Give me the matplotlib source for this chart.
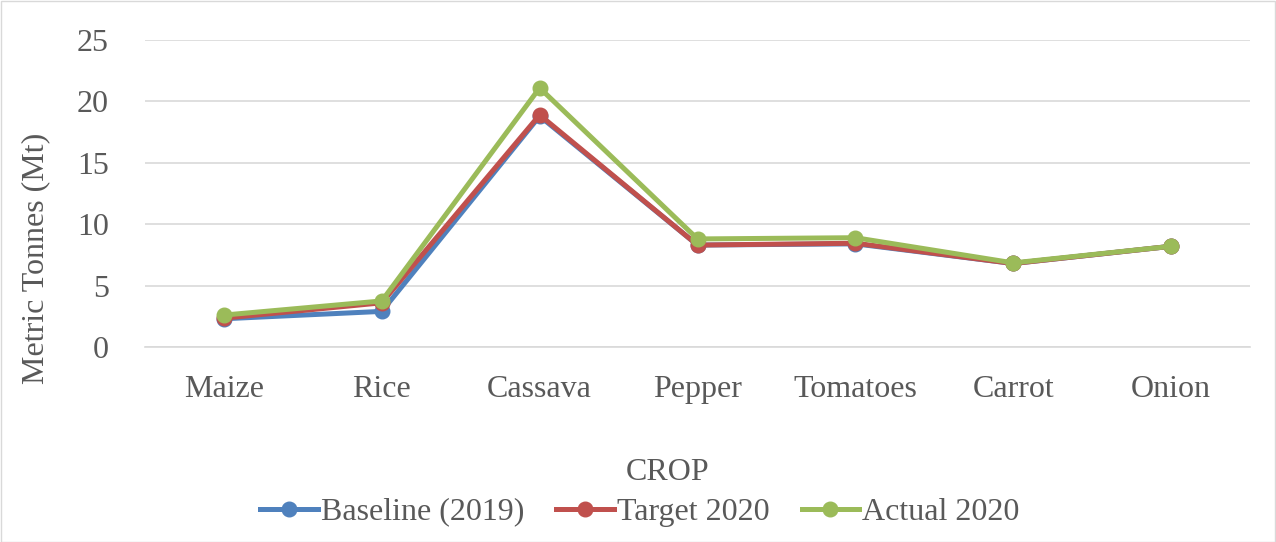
import matplotlib.pyplot as plt
from matplotlib.patches import Rectangle

crops = ['Maize', 'Rice', 'Cassava', 'Pepper', 'Tomatoes', 'Carrot', 'Onion']
baseline_2019 = [2.3, 2.9, 18.8, 8.3, 8.4, 6.8, 8.2]
target_2020 = [2.35, 3.6, 18.9, 8.3, 8.45, 6.8, 8.2]
actual_2020 = [2.6, 3.75, 21.1, 8.8, 8.9, 6.85, 8.2]

plt.rcParams['font.family'] = ['Liberation Serif', 'DejaVu Serif']
text_color = '#595959'

fig = plt.figure(figsize=(12.76, 5.42), dpi=100)
ax = fig.add_axes([145 / 1276, 1 - 347 / 542, 1105 / 1276, 307 / 542])

x = range(len(crops))
series = [
    (baseline_2019, '#4f81bd', 'Baseline (2019)'),
    (target_2020, '#c0504d', 'Target 2020'),
    (actual_2020, '#9bbb59', 'Actual 2020'),
]
for vals, col, lab in series:
    ax.plot(x, vals, color=col, linewidth=3.6, marker='o', markersize=10.5,
            label=lab, solid_joinstyle='round', clip_on=False)

ax.set_xlim(-0.5, len(crops) - 0.5)
ax.set_ylim(0, 25)
ax.set_yticks(range(0, 26, 5))
ax.set_xticks(list(x))
ax.set_xticklabels(crops)
ax.grid(axis='y', color='#d9d9d9', linewidth=1.2)
ax.set_axisbelow(True)
for s in ['top', 'right', 'left']:
    ax.spines[s].set_visible(False)
ax.spines['bottom'].set_color('#d9d9d9')
ax.spines['bottom'].set_linewidth(1.2)
ax.tick_params(axis='both', length=0, labelsize=23, colors=text_color)
ax.tick_params(axis='x', pad=20)
ax.tick_params(axis='y', pad=26)

fig.text(36 / 1276, 1 - 258 / 542, 'Metric Tonnes (Mt)', rotation=90,
         ha='center', va='center', fontsize=23, color=text_color)
fig.text(668 / 1276, 1 - 472 / 542, 'CROP', ha='center', va='center',
         fontsize=23, color=text_color)

leg = fig.legend(loc='center', bbox_to_anchor=(640 / 1276, 1 - 512 / 542),
                 ncol=3, frameon=False, fontsize=23, handlelength=1.8,
                 handletextpad=0.1, columnspacing=1.0, borderpad=0)
for t in leg.get_texts():
    t.set_color(text_color)

fig.patches.append(Rectangle((0.5 / 1276, 0.5 / 542), 1 - 1.5 / 1276, 1 - 1.5 / 542,
                             transform=fig.transFigure, fill=False,
                             edgecolor='#d9d9d9', linewidth=1))

fig.savefig('out.png', dpi=100)
